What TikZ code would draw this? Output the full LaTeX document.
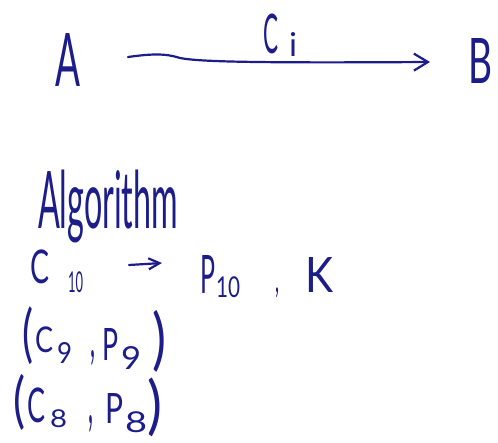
\documentclass[tikz,border=0pt]{standalone}
\usepackage{graphicx}
\usepackage{fontspec}
\newfontfamily\hwfont{Lato}
\usetikzlibrary{arrows.meta}
\definecolor{ink}{RGB}{28,28,138}
\newcommand\hwtext[3]{\resizebox*{#1pt}{#2pt}{\hwfont #3}}
\tikzset{
  hw/.style={anchor=north west, inner sep=0pt, outer sep=0pt, text=ink},
  pen/.style={draw=ink, line width=2.2pt, line cap=round, line join=round},
  bigtip/.style={-{Straight Barb[length=14pt,width=17pt]}},
  smalltip/.style={-{Straight Barb[length=11pt,width=11pt]}}
}
\begin{document}
\begin{tikzpicture}[x=1pt,y=-1pt]
\useasboundingbox (0,0) rectangle (498,443);
% top line
\node[hw] (A) at (55,33) {\hwtext{25}{53}{A}};
\node[hw] (B) at (468,38) {\hwtext{24}{45}{B}};
\node[hw] (Ci) at (263,14) {\hwtext{15}{40}{C}};
\node[hw] (i) at (289,33) {\hwtext{8}{24}{i}};
\coordinate (a1) at (128,57);
\coordinate (b1) at (430,62);
\draw[pen,bigtip] (a1) .. controls (150,54) and (165,53) .. (180,58) .. controls (200,62) and (260,63) .. (b1);
% Algorithm
\node[hw] (alg) at (38,170) {\hwtext{140}{73}{Algorithm}};
% C10 -> P10 , K
\node[hw] (C10) at (30,250) {\hwtext{19}{34}{C}};
\node[hw] (s10) at (68,272) {\hwtext{15}{21}{10}};
\coordinate (c1) at (129,265);
\coordinate (c2) at (162,263);
\draw[pen,smalltip] (c1) -- (c2);
\node[hw] (P10) at (200,255) {\hwtext{15}{38}{P}};
\node[hw] (t10) at (216,277) {\hwtext{24}{21}{10}};
\node[hw] (cm1) at (275,288) {\hwtext{4}{10}{,}};
\node[hw] (K) at (305,257) {\hwtext{28}{35}{K}};
% (C9 , P9)
\node[hw] (lp9) at (22,307) {\hwtext{11}{58}{(}};
\node[hw] (C9) at (35,327) {\hwtext{18}{26}{C}};
\node[hw] (s9) at (57,342) {\hwtext{15}{21}{9}};
\node[hw] (cm9) at (90,351) {\hwtext{5}{15}{,}};
\node[hw] (P9) at (102,328) {\hwtext{16}{32}{P}};
\node[hw] (t9) at (121,346) {\hwtext{20}{23}{9}};
\node[hw] (rp9) at (152,310) {\hwtext{14}{62}{)}};
% (C8 , P8)
\node[hw] (lp8) at (13,374) {\hwtext{12}{56}{(}};
\node[hw] (C8) at (27,388) {\hwtext{18}{35}{C}};
\node[hw] (s8) at (50,410) {\hwtext{17}{18}{8}};
\node[hw] (cm8) at (88,416) {\hwtext{5}{17}{,}};
\node[hw] (P8) at (105,393) {\hwtext{18}{30}{P}};
\node[hw] (t8) at (125,412) {\hwtext{22}{21}{8}};
\node[hw] (rp8) at (147,378) {\hwtext{15}{59}{)}};
\end{tikzpicture}
\end{document}
